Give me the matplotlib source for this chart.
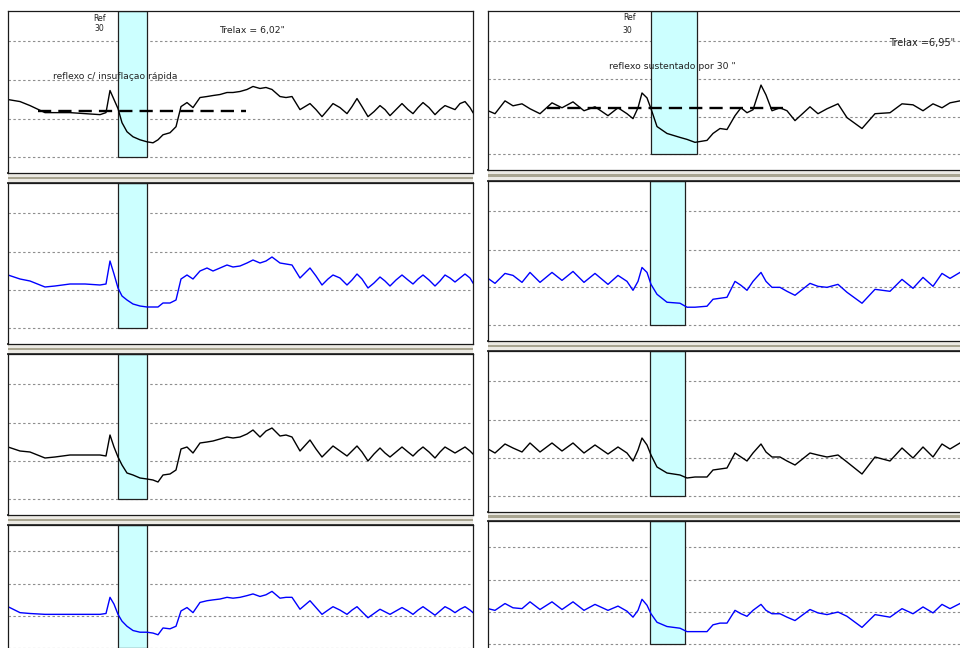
import matplotlib
matplotlib.use("Agg")
import matplotlib.pyplot as plt
from matplotlib.patches import Rectangle
from matplotlib import font_manager

FIG_W, FIG_H = 960, 648

# sample columns of each recorder strip (left strip and right strip)
left_t = [0, 12, 22, 37, 47, 62, 77, 92, 98, 102, 106, 110, 114, 119, 125, 132,
          139, 145, 150, 155, 162, 168, 173, 179, 185, 192, 199, 205, 212, 219, 225, 232,
          239, 245, 252, 258, 264, 272, 278, 284, 292, 302, 308, 314, 320, 325, 332, 339,
          344, 349, 354, 360, 366, 372, 377, 382, 388, 394, 400, 405, 410, 415, 421, 427,
          432, 437, 442, 447, 452, 457, 462, 465]

right_t = [0, 7, 17, 25, 34, 42, 52, 64, 74, 85, 96, 107, 120, 130, 139, 145,
           150, 154, 159, 163, 169, 179, 192, 199, 207, 219, 225, 232, 239, 247, 253, 259,
           265, 273, 278, 284, 292, 299, 307, 322, 330, 339, 350, 359, 374, 387, 402, 414,
           425, 435, 445, 454, 462, 472]

# reflex traces, "insuflação rápida" run
left_ch1 = [73, 71, 67, 60, 60, 60, 59, 58, 60, 82, 73, 64, 50, 41, 36, 33,
            31, 30, 33, 38, 40, 46, 66, 70, 65, 75, 76, 77, 78, 80, 80, 81,
            83, 86, 84, 85, 83, 76, 75, 76, 63, 69, 63, 56, 63, 69, 65, 59,
            66, 74, 66, 56, 61, 67, 63, 57, 63, 69, 63, 59, 65, 70, 65, 58,
            63, 67, 65, 63, 69, 71, 65, 60]
left_ch2 = [69, 65, 63, 57, 58, 60, 60, 59, 60, 83, 70, 56, 48, 44, 40, 38,
            37, 37, 37, 41, 41, 44, 65, 69, 65, 73, 76, 73, 76, 79, 77, 78,
            81, 84, 81, 83, 87, 81, 80, 79, 66, 76, 68, 59, 65, 69, 66, 59,
            64, 70, 65, 56, 61, 67, 63, 58, 64, 69, 64, 60, 65, 69, 64, 58,
            63, 69, 66, 62, 66, 70, 66, 61]
left_ch3 = [68, 64, 63, 57, 58, 60, 60, 60, 59, 80, 68, 58, 50, 42, 40, 37,
            36, 35, 33, 40, 41, 45, 66, 68, 62, 72, 73, 74, 76, 78, 77, 78,
            81, 85, 78, 84, 87, 79, 80, 78, 64, 75, 66, 58, 64, 69, 64, 59,
            64, 69, 63, 54, 61, 67, 62, 58, 63, 68, 63, 59, 64, 68, 63, 57,
            63, 68, 65, 62, 65, 68, 64, 61]
left_ch4 = [65, 58, 57, 56, 56, 56, 56, 56, 57, 76, 68, 56, 48, 42, 37, 35,
            35, 34, 32, 40, 39, 42, 60, 64, 58, 70, 72, 73, 74, 76, 75, 76,
            78, 80, 77, 79, 83, 75, 76, 76, 62, 72, 64, 56, 61, 65, 61, 56,
            61, 65, 59, 52, 57, 62, 59, 56, 60, 64, 60, 56, 61, 65, 60, 55,
            60, 65, 62, 58, 62, 65, 61, 58]

# reflex traces, "sustentado por 30 s" run
right_ch1 = [60, 57, 70, 65, 67, 62, 57, 68, 63, 69, 60, 64, 55, 63, 57, 52,
             63, 78, 73, 62, 44, 37, 33, 31, 28, 30, 37, 42, 41, 55, 63, 58,
             61, 86, 76, 60, 63, 60, 50, 64, 57, 62, 67, 53, 42, 57, 58, 67,
             66, 60, 67, 63, 68, 70]
right_ch2 = [63, 58, 68, 66, 59, 69, 59, 69, 61, 70, 59, 68, 57, 66, 60, 51,
             60, 74, 69, 57, 47, 39, 38, 34, 34, 35, 42, 43, 44, 60, 56, 51,
             60, 69, 60, 54, 54, 50, 46, 58, 55, 54, 57, 49, 38, 52, 50, 62,
             53, 64, 55, 68, 63, 69]
right_ch3 = [63, 59, 68, 64, 60, 69, 60, 69, 61, 69, 59, 67, 58, 65, 59, 51,
             62, 74, 67, 57, 45, 39, 37, 34, 35, 35, 42, 43, 44, 59, 55, 51,
             59, 68, 60, 55, 55, 51, 47, 59, 57, 55, 57, 50, 38, 55, 51, 64,
             54, 65, 55, 68, 63, 69]
right_ch4 = [58, 56, 64, 59, 58, 66, 57, 66, 57, 66, 56, 63, 56, 61, 55, 48,
             56, 69, 62, 52, 42, 37, 35, 31, 31, 31, 39, 41, 41, 56, 52, 49,
             56, 63, 56, 52, 52, 48, 44, 57, 53, 51, 54, 49, 36, 51, 48, 58,
             52, 60, 53, 63, 58, 64]

# stimulus windows (start, end) per channel
left_stim = [(110, 139)] * 4
right_stim = [(163, 209), (162, 197), (162, 197), (162, 197)]

# reference level marked with the long dashes on the first channel
left_ref = (30, 238, 62)
right_ref = (59, 295, 63)

grid_levels = [16, 54, 92, 131]
y_top = 161

trace_colors = ["black", "#0000ff", "black", "#0000ff"]

# strip geometry in pixels: x0, width, and (top, height) of each channel
left_strip = (8, 465, [(11, 162), (183, 161), (354, 161), (525, 137)])
right_strip = (488, 480, [(11, 159), (181, 160), (351, 161), (521, 137)])

names = {f.name for f in font_manager.fontManager.ttflist}
if "Liberation Sans Narrow" in names:
    FONT = "Liberation Sans Narrow"
    scale = 1.0
else:
    FONT = "DejaVu Sans"
    scale = 0.8


def rect(x0, top, w, h):
    return [x0 / FIG_W, 1 - (top + h) / FIG_H, w / FIG_W, h / FIG_H]


fig = plt.figure(figsize=(FIG_W / 100, FIG_H / 100), dpi=100)
fig.patch.set_facecolor("white")

# background canvas for the separator bars between channels
bg = fig.add_axes([0, 0, 1, 1], zorder=0)
bg.set_xlim(0, FIG_W)
bg.set_ylim(FIG_H, 0)
bg.axis("off")


def draw_separators(strip):
    x0, w, panels = strip
    for (top, h), (ntop, _) in zip(panels[:-1], panels[1:]):
        y0 = top + h
        bg.add_patch(Rectangle((x0, y0), w, ntop - y0, fc="#eceae4", ec="none"))
        bg.add_patch(Rectangle((x0, y0 + (ntop - y0) / 2 - 1.2), w, 2.4,
                               fc="#a9a591", ec="none"))
        bg.plot([x0, x0 + w], [y0, y0], color="#3c3c3c", lw=1.4)
        bg.plot([x0, x0 + w], [ntop, ntop], color="#3c3c3c", lw=1.4)


def draw_strip(strip, t, traces, stims, ref):
    x0, w, panels = strip
    axes = []
    for i, (top, h) in enumerate(panels):
        ax = fig.add_axes(rect(x0, top, w, h), zorder=1)
        ax.set_xlim(0, w)
        ax.set_ylim(0, y_top)
        ax.set_xticks([])
        ax.set_yticks([])
        ax.set_facecolor("white")
        for s in ax.spines.values():
            s.set_color("#1a1a1a")
            s.set_linewidth(0.9)
        for g in grid_levels:
            ax.axhline(g, color="#8e8e8e", lw=0.8, ls=(0, (2.2, 2.2)), zorder=0.5)
        s0, s1 = stims[i]
        ax.add_patch(Rectangle((s0, grid_levels[0]), s1 - s0, y_top - grid_levels[0],
                               fc="#ccffff", ec="#202020", lw=0.9, zorder=1))
        ax.plot(t, traces[i], color=trace_colors[i], lw=1.0, zorder=2)
        axes.append(ax)
    a, b, lvl = ref
    axes[0].plot([a, b], [lvl, lvl], color="black", lw=1.7,
                 ls=(0, (5.6, 3.0)), zorder=2.5)
    return axes


draw_separators(left_strip)
draw_separators(right_strip)

lax = draw_strip(left_strip, left_t, [left_ch1, left_ch2, left_ch3, left_ch4],
                 left_stim, left_ref)
rax = draw_strip(right_strip, right_t, [right_ch1, right_ch2, right_ch3, right_ch4],
                 right_stim, right_ref)

txt = dict(family=FONT, color="#222222", zorder=3)
lax[0].text(92, 154, "Ref", fontsize=7 * scale, ha="center", va="center", **txt)
lax[0].text(91, 144, "30", fontsize=7 * scale, ha="center", va="center", **txt)
lax[0].text(211, 142, 'Trelax = 6,02"', fontsize=8.3 * scale, ha="left", va="center", **txt)
lax[0].text(45, 96, "reflexo c/ insuflaçao rápida", fontsize=8.2 * scale,
            ha="left", va="center", **txt)

rax[0].text(142, 154, "Ref", fontsize=7 * scale, ha="center", va="center", **txt)
rax[0].text(139, 141, "30", fontsize=7 * scale, ha="center", va="center", **txt)
rax[0].text(401, 129, 'Trelax =6,95"', fontsize=8.8 * scale, ha="left", va="center", **txt)
rax[0].text(121, 105, 'reflexo sustentado por 30 "', fontsize=8.3 * scale,
            ha="left", va="center", **txt)

fig.savefig("out.png", dpi=100, facecolor="white")
